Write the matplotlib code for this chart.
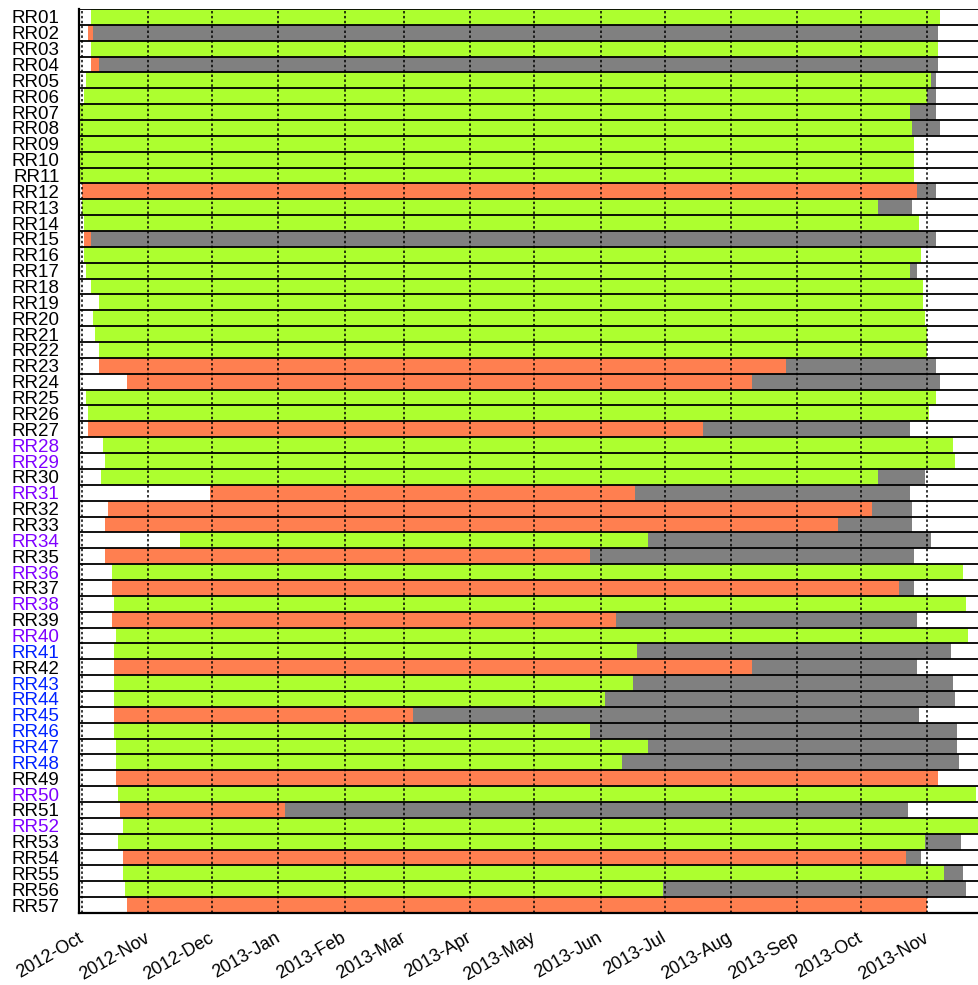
import matplotlib
matplotlib.use("Agg")
import matplotlib.pyplot as plt
import matplotlib.dates as mdates
import matplotlib.transforms as mtransforms
import pandas as pd

plt.rcParams['font.family'] = ['Liberation Sans', 'DejaVu Sans']

stations = ["RR01", "RR02", "RR03", "RR04", "RR05", "RR06", "RR07", "RR08", "RR09", "RR10",
            "RR11", "RR12", "RR13", "RR14", "RR15", "RR16", "RR17", "RR18", "RR19", "RR20",
            "RR21", "RR22", "RR23", "RR24", "RR25", "RR26", "RR27", "RR28", "RR29", "RR30",
            "RR31", "RR32", "RR33", "RR34", "RR35", "RR36", "RR37", "RR38", "RR39", "RR40",
            "RR41", "RR42", "RR43", "RR44", "RR45", "RR46", "RR47", "RR48", "RR49", "RR50",
            "RR51", "RR52", "RR53", "RR54", "RR55", "RR56", "RR57"]

label_group = ["k", "k", "k", "k", "k", "k", "k", "k", "k", "k",
               "k", "k", "k", "k", "k", "k", "k", "k", "k", "k",
               "k", "k", "k", "k", "k", "k", "k", "p", "p", "k",
               "p", "k", "k", "p", "k", "p", "k", "p", "k", "p",
               "b", "k", "b", "b", "b", "b", "b", "b", "k", "p",
               "k", "p", "k", "k", "k", "k", "k"]

# g = green segment, o = orange segment
status = ["g", "o", "g", "o", "g", "g", "g", "g", "g", "g",
          "g", "o", "g", "g", "o", "g", "g", "g", "g", "g",
          "g", "g", "o", "o", "g", "g", "o", "g", "g", "g",
          "o", "o", "o", "g", "o", "g", "o", "g", "o", "g",
          "g", "o", "g", "g", "o", "g", "g", "g", "o", "g",
          "o", "g", "g", "o", "g", "g", "o"]

start = ["2012-10-05", "2012-10-04", "2012-10-05", "2012-10-05", "2012-10-03", "2012-10-02",
         "2012-09-29", "2012-09-29", "2012-09-30", "2012-09-30", "2012-09-30", "2012-10-01",
         "2012-10-01", "2012-10-02", "2012-10-02", "2012-10-02", "2012-10-03", "2012-10-05",
         "2012-10-09", "2012-10-06", "2012-10-07", "2012-10-09", "2012-10-09", "2012-10-22",
         "2012-10-03", "2012-10-04", "2012-10-04", "2012-10-11", "2012-10-12", "2012-10-10",
         "2012-11-30", "2012-10-13", "2012-10-12", "2012-11-16", "2012-10-12", "2012-10-15",
         "2012-10-15", "2012-10-16", "2012-10-15", "2012-10-17", "2012-10-16", "2012-10-16",
         "2012-10-16", "2012-10-16", "2012-10-16", "2012-10-16", "2012-10-17", "2012-10-17",
         "2012-10-17", "2012-10-18", "2012-10-19", "2012-10-20", "2012-10-18", "2012-10-20",
         "2012-10-20", "2012-10-21", "2012-10-22"]

active_end = ["2013-11-07", "2012-10-06", "2013-11-06", "2012-10-09", "2013-11-03", "2013-11-01",
              "2013-10-24", "2013-10-25", "2013-10-26", "2013-10-26", "2013-10-26", "2013-10-27",
              "2013-10-09", "2013-10-28", "2012-10-05", "2013-10-29", "2013-10-24", "2013-10-30",
              "2013-10-30", "2013-10-31", "2013-11-01", "2013-11-01", "2013-08-27", "2013-08-11",
              "2013-11-05", "2013-11-02", "2013-07-19", "2013-11-13", "2013-11-14", "2013-10-09",
              "2013-06-17", "2013-10-06", "2013-09-20", "2013-06-23", "2013-05-27", "2013-11-18",
              "2013-10-19", "2013-11-19", "2013-06-08", "2013-11-20", "2013-06-18", "2013-08-11",
              "2013-06-16", "2013-06-03", "2013-03-05", "2013-05-27", "2013-06-23", "2013-06-11",
              "2013-11-06", "2013-11-24", "2013-01-04", "2013-11-26", "2013-10-31", "2013-10-22",
              "2013-11-09", "2013-06-30", "2013-11-01"]

gray_end = [None, "2013-11-06", None, "2013-11-06", "2013-11-05", "2013-11-05",
            "2013-11-05", "2013-11-07", None, None, None, "2013-11-05",
            "2013-10-25", None, "2013-11-05", None, "2013-10-27", None,
            None, None, None, None, "2013-11-05", "2013-11-07",
            None, None, "2013-10-24", None, None, "2013-10-31",
            "2013-10-24", "2013-10-25", "2013-10-25", "2013-11-03", "2013-10-26", None,
            "2013-10-26", None, "2013-10-27", None, "2013-11-12", "2013-10-27",
            "2013-11-13", "2013-11-14", "2013-10-28", "2013-11-15", "2013-11-15", "2013-11-16",
            None, None, "2013-10-23", None, "2013-11-17", "2013-10-29",
            "2013-11-18", "2013-11-19", None]

month_ticks = ["2012-10-01", "2012-11-01", "2012-12-01", "2013-01-01", "2013-02-01",
               "2013-03-01", "2013-04-01", "2013-05-01", "2013-06-01", "2013-07-01",
               "2013-08-01", "2013-09-01", "2013-10-01", "2013-11-01"]

seg_colors = {"g": "#adff2f", "o": "#ff7f50"}
gray_color = "#808080"
label_colors = {"k": "#000000", "p": "#7f00ff", "b": "#0022ff"}

def dn(s):
    return mdates.date2num(pd.Timestamp(s).to_pydatetime())

fig = plt.figure(figsize=(9.79, 9.85), dpi=100)
ax = fig.add_axes([79 / 979, 1 - 913 / 985, 1 - 79 / 979 + 0.002, (913 - 9) / 985])

n = len(stations)
for i in range(n):
    y = n - 1 - i
    s = dn(start[i])
    e = dn(active_end[i])
    ax.barh(y, e - s, left=s, height=1.0, align='edge',
            color=seg_colors[status[i]], edgecolor='none', zorder=2)
    if gray_end[i] is not None:
        g = dn(gray_end[i])
        ax.barh(y, g - e, left=e, height=1.0, align='edge',
                color=gray_color, edgecolor='none', zorder=2)

for k in range(n + 1):
    ax.axhline(k, color='black', lw=1.3, zorder=3)

ticks = [dn(t) for t in month_ticks]
for t in ticks:
    ax.axvline(t, color='black', lw=1.1, ls=(0, (1.6, 1.6)), zorder=4)

x0 = dn("2012-10-01")
ax.set_xlim(x0 - 1.4, x0 + 421.2)
ax.set_ylim(0, n)

ax.set_yticks([n - 1 - i + 0.5 for i in range(n)])
ax.set_yticklabels(stations, fontsize=13.5)
for lbl, grp in zip(ax.get_yticklabels(), label_group):
    lbl.set_color(label_colors[grp])

ax.set_xticks(ticks)
ax.set_xticklabels([pd.Timestamp(t).strftime("%Y-%b") for t in month_ticks],
                   rotation=30, ha='right', va='center', rotation_mode='anchor',
                   fontsize=13)
shift = mtransforms.ScaledTranslation(-6 / 100, 0, fig.dpi_scale_trans)
for lbl in ax.get_xticklabels():
    lbl.set_transform(lbl.get_transform() + shift)
ax.tick_params(axis='y', length=0, pad=14)
ax.tick_params(axis='x', length=0, pad=17)

for side in ['top', 'right']:
    ax.spines[side].set_visible(False)
ax.spines['left'].set_linewidth(1.6)
ax.spines['bottom'].set_linewidth(1.6)
ax.spines['left'].set_zorder(5)
ax.spines['bottom'].set_zorder(5)

fig.savefig("out.png", dpi=100)
